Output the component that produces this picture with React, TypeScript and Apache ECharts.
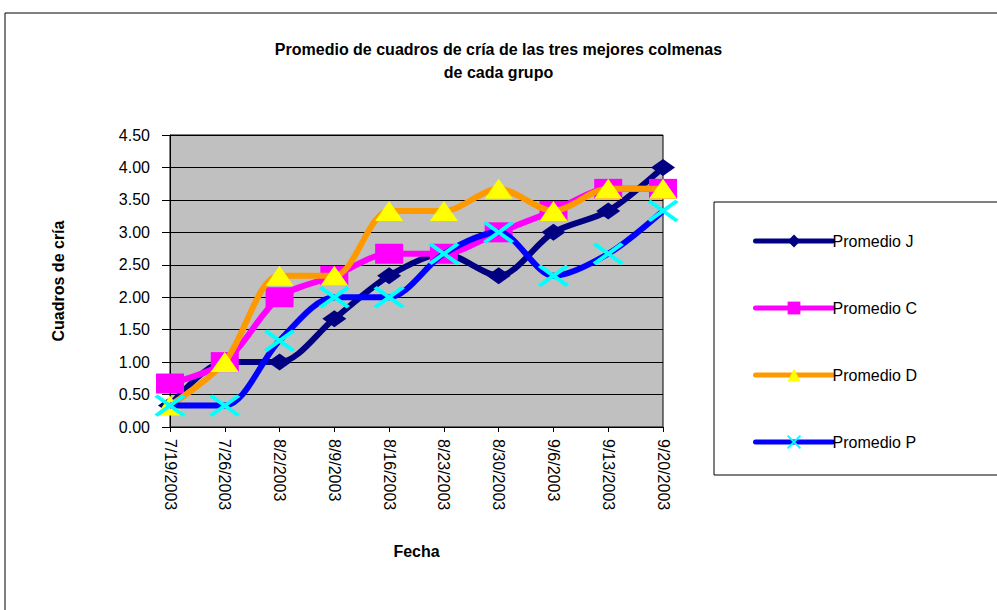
import React, { useEffect, useRef } from "react";
import * as echarts from "echarts";

const fechas = ["7/19/2003", "7/26/2003", "8/2/2003", "8/9/2003", "8/16/2003", "8/23/2003", "8/30/2003", "9/6/2003", "9/13/2003", "9/20/2003"];
const promedioJ = [0.33, 1.0, 1.0, 1.67, 2.33, 2.67, 2.33, 3.0, 3.33, 4.0];
const promedioC = [0.67, 1.0, 2.0, 2.33, 2.67, 2.67, 3.0, 3.33, 3.67, 3.67];
const promedioD = [0.33, 1.0, 2.33, 2.33, 3.33, 3.33, 3.67, 3.33, 3.67, 3.67];
const promedioP = [0.33, 0.33, 1.33, 2.0, 2.0, 2.67, 3.0, 2.33, 2.67, 3.33];

const FONT = "'Liberation Sans', Arial, sans-serif";

export default function App() {
  const ref = useRef<HTMLDivElement>(null);
  useEffect(() => {
    if (!ref.current) return;
    const chart = echarts.init(ref.current, null, { renderer: "svg" });
    const xPath = "path://M0,0L10,10M10,0L0,10";
    chart.setOption({
      animation: false,
      backgroundColor: "#fff",
      textStyle: { fontFamily: FONT },
      title: {
        text: "Promedio de cuadros de cría de las tres mejores colmenas\nde cada grupo",
        left: "center",
        top: 33,
        textStyle: { fontFamily: FONT, fontSize: 16, fontWeight: "bold", color: "#000", lineHeight: 23 },
      },
      graphic: [
        { type: "rect", shape: { x: 5, y: 13, width: 1000, height: 700 }, style: { fill: "none", stroke: "#000", lineWidth: 1 }, z: -1 },
        { type: "rect", shape: { x: 714, y: 202, width: 300, height: 273 }, style: { fill: "none", stroke: "#000", lineWidth: 1 }, z: -1 },
      ],
      legend: {
        orient: "vertical",
        left: 748,
        top: 228,
        itemWidth: 77,
        itemHeight: 16,
        itemGap: 51,
        lineStyle: { width: 5, cap: "round" },
        textStyle: { fontFamily: FONT, fontSize: 16, color: "#000", lineHeight: 16, padding: [0, 0, 0, -5] },
        data: ["Promedio J", "Promedio C", "Promedio D", "Promedio P"],
      },
      grid: {
        left: 170,
        right: 334,
        top: 135,
        bottom: 183,
        show: true,
        backgroundColor: "#C0C0C0",
        borderColor: "#000",
        borderWidth: 1,
      },
      xAxis: {
        type: "category",
        data: fechas,
        boundaryGap: false,
        name: "Fecha",
        nameLocation: "middle",
        nameGap: 116,
        nameTextStyle: { fontFamily: FONT, fontSize: 16, fontWeight: "bold", color: "#000" },
        axisLine: { lineStyle: { color: "#000", width: 1 } },
        axisTick: { show: true, length: 5, lineStyle: { color: "#000" } },
        axisLabel: { rotate: -90, fontFamily: FONT, fontSize: 16, color: "#000", margin: 12 },
        splitLine: { show: false },
      },
      yAxis: {
        type: "value",
        min: 0,
        max: 4.5,
        interval: 0.5,
        name: "Cuadros de cría",
        nameLocation: "middle",
        nameGap: 104,
        nameTextStyle: { fontFamily: FONT, fontSize: 16, fontWeight: "bold", color: "#000" },
        axisLine: { show: true, lineStyle: { color: "#000", width: 1 } },
        axisTick: { show: true, length: 8, lineStyle: { color: "#000" } },
        axisLabel: { fontFamily: FONT, fontSize: 16, color: "#000", margin: 20, formatter: (v: number) => v.toFixed(2) },
        splitLine: { show: true, lineStyle: { color: "#000", width: 1 } },
      },
      series: [
        {
          name: "Promedio J",
          type: "line",
          data: promedioJ,
          smooth: 0.3,
          symbol: "diamond",
          symbolSize: [24, 17],
          lineStyle: { color: "#000080", width: 6 },
          itemStyle: { color: "#000080" },
          z: 2,
        },
        {
          name: "Promedio C",
          type: "line",
          data: promedioC,
          smooth: 0.3,
          symbol: "rect",
          symbolSize: [28, 20],
          lineStyle: { color: "#FF00FF", width: 6 },
          itemStyle: { color: "#FF00FF" },
          z: 3,
        },
        {
          name: "Promedio D",
          type: "line",
          data: promedioD,
          smooth: 0.3,
          symbol: "triangle",
          symbolSize: [28, 20],
          lineStyle: { color: "#FF9900", width: 6 },
          itemStyle: { color: "#FFFF00" },
          z: 4,
        },
        {
          name: "Promedio P",
          type: "line",
          data: promedioP,
          smooth: 0.3,
          symbol: xPath,
          symbolSize: [28, 20],
          symbolKeepAspect: false,
          lineStyle: { color: "#0000FF", width: 6 },
          itemStyle: { color: "#00FFFF", borderColor: "#00FFFF", borderWidth: 4 },
          z: 5,
        },
      ],
    });
    return () => chart.dispose();
  }, []);
  return <div ref={ref} style={{ position: "absolute", left: 0, top: 0, width: 997, height: 610 }} />;
}
